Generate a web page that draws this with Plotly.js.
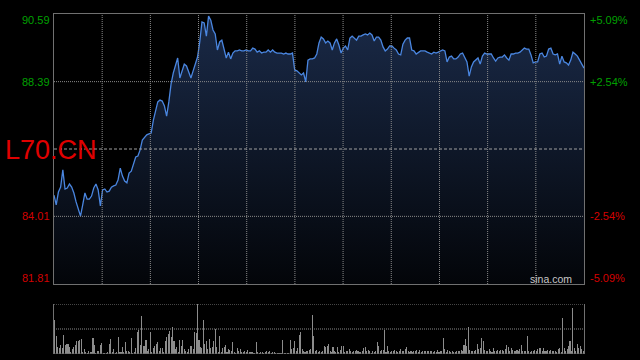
<!DOCTYPE html>
<html>
<head>
<meta charset="utf-8">
<script src="https://cdn.plot.ly/plotly-3.0.1.min.js"></script>
<style>
html,body{margin:0;padding:0;background:#000;}
#chart{width:640px;height:360px;}
</style>
</head>
<body>
<div id="chart"></div>
<script>
// ---- data ----
const symbol = 'L70.CN';
const prevClose = 86.20;
const priceTicks = [90.59, 88.39, 84.01, 81.81];
const pctLabels = ['+5.09%', '+2.54%', '-2.54%', '-5.09%'];

const prices = [
84.70,84.38,84.80,84.96,85.52,84.90,84.93,85.06,84.96,84.77,
84.48,84.22,84.02,84.38,84.77,84.57,84.57,84.67,84.93,85.06,
84.87,84.35,84.87,84.90,84.80,84.83,84.96,85.00,85.03,85.19,
85.58,85.32,85.16,85.10,85.42,85.48,85.74,85.94,85.97,86.17,
86.49,86.59,86.66,86.69,86.72,87.14,87.44,87.73,87.79,87.76,
87.60,87.27,87.73,88.31,88.67,88.93,89.16,88.51,88.74,88.96,
88.90,88.70,88.51,88.74,88.96,89.19,89.68,90.33,90.30,89.87,
90.52,90.39,90.07,89.94,89.42,89.68,89.74,89.48,89.16,89.35,
89.13,89.32,89.39,89.39,89.42,89.39,89.39,89.42,89.39,89.39,
89.48,89.45,89.35,89.39,89.32,89.35,89.35,89.42,89.35,89.42,
89.35,89.32,89.32,89.32,89.29,89.32,89.29,89.29,89.32,88.77,
88.74,88.67,88.61,88.67,88.38,89.09,89.13,89.13,89.16,89.29,
89.65,89.84,89.78,89.65,89.71,89.65,89.42,89.65,89.78,89.58,
89.32,89.48,89.55,89.42,89.81,89.87,89.81,89.74,89.87,89.87,
89.91,89.94,89.91,89.97,89.91,89.71,89.84,89.84,89.74,89.52,
89.39,89.45,89.55,89.55,89.48,89.42,89.29,89.26,89.61,89.74,
89.81,89.81,89.42,89.39,89.29,89.35,89.39,89.39,89.39,89.35,
89.32,89.29,89.35,89.32,89.35,89.39,89.42,89.39,89.03,89.19,
89.22,89.13,89.13,89.19,89.29,89.32,89.16,89.03,88.57,88.87,
89.03,89.09,89.16,88.96,89.22,89.32,89.29,89.29,89.29,89.16,
89.06,89.16,89.19,89.19,89.26,89.16,89.09,89.29,89.29,89.32,
89.32,89.35,89.42,89.48,89.45,89.45,89.26,89.00,89.03,89.03,
89.29,89.32,89.19,89.22,89.45,89.48,89.29,89.26,89.29,88.96,
89.22,89.03,89.00,88.93,89.09,89.35,89.29,89.22,89.09,88.96,
88.83
];

const volumes = [
34,18,7,6,9,6,19,9,10,10, 7,2,5,7,9,13,13,14,15,2,
5,2,1,3,2,2,16,9,1,3, 3,9,11,1,1,1,2,10,15,2,
5,1,2,17,2,2,7,2,12,3, 3,2,16,1,2,6,22,24,9,38,
8,8,14,3,5,22,2,6,8,10, 12,3,6,6,2,13,17,20,23,17,
27,13,5,7,2,14,8,14,5,3, 2,5,8,8,5,22,21,50,14,7,
6,34,10,13,5,15,6,7,13,25, 7,2,18,2,6,7,9,2,5,4,
3,12,2,1,6,3,5,2,2,3, 2,4,2,2,2,1,1,12,2,1,
2,2,1,2,3,2,3,1,2,2, 1,1,1,1,1,14,1,1,1,1,
14,5,6,13,3,6,19,22,5,3, 2,3,3,4,5,
39,18,3,4,2,3,2,3,8,7, 8,10,3,2,7,3,2,7,2,4,
8,8,2,3,3,5,3,2,3,3, 4,3,2,2,3,6,7,3,4,3,
1,3,2,3,12,8,3,4,4,24, 2,8,3,2,3,3,4,3,2,3,
5,3,3,5,7,3,2,3,2,3, 3,4,2,4,2,3,3,3,3,3,
3,3,2,3,2,4,2,3,3,16, 5,2,4,3,2,3,2,2,3,3,
3,4,3,9,15,8,27,4,3,3, 3,4,10,5,6,16,13,4,3,3,
5,3,2,6,3,3,4,3,4,4, 3,5,9,7,3,6,4,3,3,4,
3,5,9,3,3,3,18,3,2,3, 3,4,3,5,6,6,3,6,3,3,
4,3,4,3,3,3,2,5,6,2, 36,6,3,5,8,13,3,46,6,3,
10,6,8,5,3
];

// ---- build chart ----
const px = prices.map((_, i) => i);
const vx = volumes.map((_, i) => i);
const vMax = Math.max(...volumes);

const green = '#00a000', red = '#d40000';
const border = '#707070', gridC = '#8a8a8a';

const priceTrace = {
  type: 'scatter', mode: 'lines', x: px, y: prices,
  xaxis: 'x', yaxis: 'y',
  line: {color: '#4a86e0', width: 1.3},
  fill: 'tozeroy',
  fillgradient: {type: 'vertical', start: priceTicks[3], stop: priceTicks[0],
    colorscale: [[0, 'rgb(3,5,9)'], [1, 'rgb(26,42,72)']]},
  hoverinfo: 'skip'
};

const volTrace = {
  type: 'bar', x: vx, y: volumes, xaxis: 'x2', yaxis: 'y2',
  marker: {color: '#8c8c8c', line: {width: 0}}, width: 0.72,
  hoverinfo: 'skip'
};

const shapes = [];
for (let k = 1; k < 11; k++) {
  shapes.push({type: 'line', xref: 'x domain', yref: 'y domain', x0: k / 11, x1: k / 11, y0: 0, y1: 1,
    line: {color: gridC, width: 1, dash: '1px,1px'}, layer: 'above'});
}
[priceTicks[1], priceTicks[2]].forEach(v => shapes.push({type: 'line', xref: 'x domain', yref: 'y',
  x0: 0, x1: 1, y0: v, y1: v, line: {color: gridC, width: 1, dash: '1px,1px'}, layer: 'above'}));
shapes.push({type: 'line', xref: 'x domain', yref: 'y', x0: 0, x1: 1, y0: prevClose, y1: prevClose,
  line: {color: '#a0a0a0', width: 1, dash: '3px,2px'}, layer: 'above'});
// volume panel guides
shapes.push({type: 'line', xref: 'x2 domain', yref: 'y2', x0: 0, x1: 1, y0: vMax, y1: vMax,
  line: {color: gridC, width: 1, dash: '1px,1px'}, layer: 'above'});
shapes.push({type: 'line', xref: 'x2 domain', yref: 'y2', x0: 0, x1: 1, y0: vMax / 2, y1: vMax / 2,
  line: {color: gridC, width: 1, dash: '1px,1px'}, layer: 'above'});
shapes.push({type: 'line', xref: 'x2 domain', yref: 'y2', x0: 0, x1: 1, y0: 0, y1: 0,
  line: {color: '#606060', width: 1}, layer: 'above'});

const annotations = [];
priceTicks.forEach((v, i) => {
  const shift = i === 0 ? -6 : (i === priceTicks.length - 1 ? 6 : 0);
  const col = v > prevClose ? green : red;
  annotations.push({xref: 'paper', yref: 'y', x: 0, y: v, xanchor: 'right', yanchor: 'middle',
    xshift: -2, yshift: shift, showarrow: false, text: v.toFixed(2),
    font: {family: 'Liberation Sans, Arial, sans-serif', size: 11, color: col}});
  annotations.push({xref: 'paper', yref: 'y', x: 1, y: v, xanchor: 'left', yanchor: 'middle',
    xshift: 4, yshift: shift, showarrow: false, text: pctLabels[i],
    font: {family: 'Liberation Sans, Arial, sans-serif', size: 11, color: col}});
});
annotations.push({xref: 'paper', yref: 'y', x: 0, y: prevClose, xanchor: 'left', yanchor: 'middle',
  xshift: -51, yshift: -1, showarrow: false, text: symbol,
  font: {family: 'Liberation Sans, Arial, sans-serif', size: 27, color: '#e00000'}});
annotations.push({xref: 'paper', yref: 'y', x: 1, y: priceTicks[3], xanchor: 'right', yanchor: 'middle',
  xshift: -10, yshift: 5, showarrow: false, text: 'sina.com',
  font: {family: 'Liberation Sans, Arial, sans-serif', size: 10.5, color: '#c8c8c8'}});

const layout = {
  width: 640, height: 360,
  margin: {l: 54, r: 56, t: 14, b: 6, pad: 0},
  paper_bgcolor: '#000', plot_bgcolor: '#000',
  showlegend: false,
  xaxis: {domain: [0, 1], range: [0, prices.length - 1], showgrid: false, zeroline: false,
    showticklabels: false, ticks: '', showline: true, mirror: true, linecolor: border, linewidth: 1, anchor: 'y'},
  yaxis: {domain: [70 / 340, 1], range: [priceTicks[3], priceTicks[0]], showgrid: false, zeroline: false,
    showticklabels: false, ticks: '', showline: true, mirror: true, linecolor: border, linewidth: 1, anchor: 'x'},
  xaxis2: {domain: [0, 1], range: [-0.5, volumes.length - 0.5], showgrid: false, zeroline: false,
    showticklabels: false, ticks: '', showline: false, anchor: 'y2'},
  yaxis2: {domain: [0, 50 / 340], range: [0, vMax], showgrid: false, zeroline: false,
    showticklabels: false, ticks: '', showline: true, mirror: true, linecolor: border, linewidth: 1, anchor: 'x2'},
  bargap: 0,
  shapes: shapes,
  annotations: annotations
};

Plotly.newPlot('chart', [priceTrace, volTrace], layout, {staticPlot: true, displayModeBar: false});
</script>
</body>
</html>
